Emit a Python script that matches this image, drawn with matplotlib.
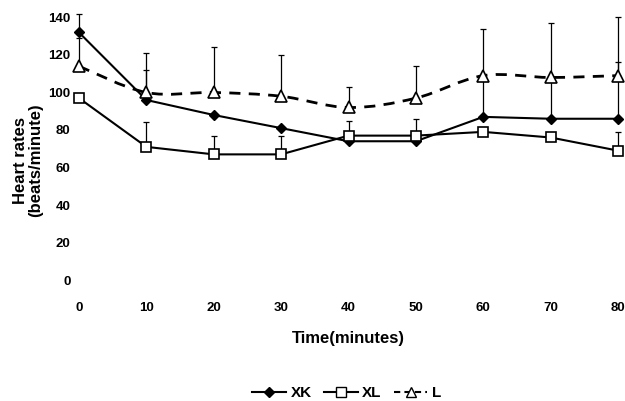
import numpy as np
import matplotlib.pyplot as plt
from matplotlib.path import Path
from matplotlib.patches import PathPatch
from matplotlib.lines import Line2D

plt.rcParams['font.family'] = ['Liberation Sans', 'DejaVu Sans']

# data
time = [0, 10, 20, 30, 40, 50, 60, 70, 80]
xk = [132, 96, 88, 81, 74, 74, 87, 86, 86]
xl = [97, 71, 67, 67, 77, 77, 79, 76, 69]
l_vals = [114, 100, 100, 98, 92, 97, 109, 108, 109]
xk_err = [10, 16, 0, 0, 0, 0, 20, 20, 30]
xl_err = [0, 13, 10, 10, 8, 9, 0, 0, 10]
l_err = [15, 21, 24, 22, 11, 17, 25, 29, 31]

fig = plt.figure(figsize=(6.25, 4.01), dpi=100)
ax = fig.add_axes([0.1264, 0.3017, 0.8624, 0.6547])
ax.set_xlim(0, 80)
ax.set_ylim(0, 140)
for s in ax.spines.values():
    s.set_visible(False)
ax.set_xticks(time)
ax.set_yticks(range(0, 141, 20))
ax.tick_params(length=0, labelsize=9.5)
ax.tick_params(axis='y', pad=6)
ax.tick_params(axis='x', pad=16)
for t in ax.get_xticklabels() + ax.get_yticklabels():
    t.set_fontweight('bold')

zeros = [0] * len(time)
ek = dict(fmt='none', ecolor='black', elinewidth=0.9, capsize=2.5, capthick=0.9, clip_on=False)
ax.errorbar(time, l_vals, yerr=[zeros, l_err], **ek)
ax.errorbar(time, xk, yerr=[zeros, xk_err], **ek)
ax.errorbar(time, xl, yerr=[zeros, xl_err], **ek)

# smooth dashed curve for L (Catmull-Rom to bezier)
pts = np.column_stack([time, l_vals]).astype(float)
verts = [tuple(pts[0])]
codes = [Path.MOVETO]
for i in range(len(pts) - 1):
    p0 = pts[i - 1] if i > 0 else pts[i]
    p1, p2 = pts[i], pts[i + 1]
    p3 = pts[i + 2] if i + 2 < len(pts) else pts[i + 1]
    c1 = p1 + (p2 - p0) / 6
    c2 = p2 - (p3 - p1) / 6
    verts += [tuple(c1), tuple(c2), tuple(p2)]
    codes += [Path.CURVE4] * 3
ax.add_patch(PathPatch(Path(verts, codes), fill=False, lw=2.0, ls=(0, (4, 3)),
                       ec='black', clip_on=False))

ax.plot(time, xk, color='black', lw=1.5, marker='D', ms=5.5, mfc='black', clip_on=False, zorder=4)
ax.plot(time, xl, color='black', lw=1.5, marker='s', ms=7, mfc='white', mew=1.2, clip_on=False, zorder=4)
ax.plot(time, l_vals, ls='none', marker='^', ms=8, mfc='white', mec='black', mew=1.2, clip_on=False, zorder=5)

fig.text(0.045, 0.60, 'Heart rates\n(beats/minute)', rotation=90, ha='center', va='center',
         fontsize=12, fontweight='bold', linespacing=1.0)
fig.text(0.557, 0.157, 'Time(minutes)', ha='center', va='center', fontsize=12, fontweight='bold')

handles = [
    Line2D([], [], color='black', lw=1.5, marker='D', ms=5.5, mfc='black'),
    Line2D([], [], color='black', lw=1.5, marker='s', ms=6.5, mfc='white'),
    Line2D([], [], color='black', lw=1.5, ls=(0, (3, 2)), marker='^', ms=6.5, mfc='white'),
]
fig.legend(handles, ['XK', 'XL', 'L'], loc='center', bbox_to_anchor=(0.555, 0.02),
           ncol=3, frameon=False, handlelength=2.2, handletextpad=0.3, columnspacing=0.8,
           prop={'weight': 'bold', 'size': 11})

fig.savefig('out.png', dpi=100)
